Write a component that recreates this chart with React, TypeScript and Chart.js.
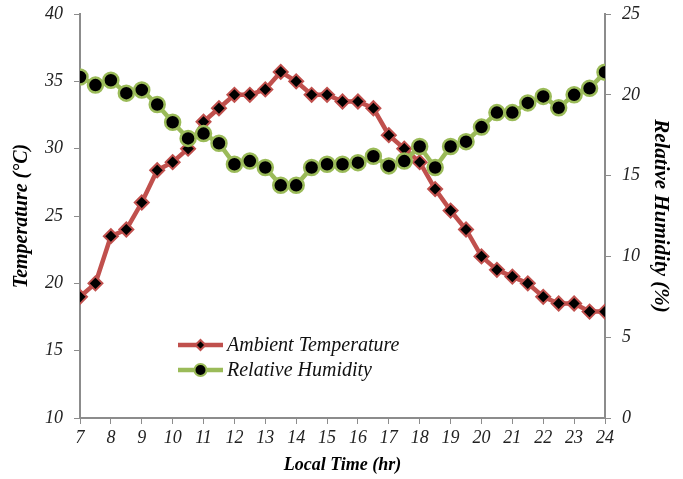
import React, { useEffect, useRef } from "react";
import { Chart, registerables } from "chart.js";

Chart.register(...registerables);

// Local time of each reading (hr)
const hours = [
  7, 7.5, 8, 8.5, 9, 9.5, 10, 10.5, 11, 11.5, 12, 12.5, 13, 13.5, 14, 14.5, 15,
  15.5, 16, 16.5, 17, 17.5, 18, 18.5, 19, 19.5, 20, 20.5, 21, 21.5, 22, 22.5,
  23, 23.5, 24,
];

// Ambient temperature (°C)
const temperature = [
  19, 20, 23.5, 24, 26, 28.4, 29, 30, 32, 33, 34, 34, 34.4, 35.7, 35, 34, 34,
  33.5, 33.5, 33, 31, 30, 29, 27, 25.4, 24, 22, 21, 20.5, 20, 19, 18.5, 18.5,
  17.9, 17.9,
];

// Relative humidity (%)
const humidity = [
  21.1, 20.6, 20.9, 20.1, 20.3, 19.4, 18.3, 17.3, 17.6, 17.0, 15.7, 15.9, 15.5,
  14.4, 14.4, 15.5, 15.7, 15.7, 15.8, 16.2, 15.6, 15.9, 16.8, 15.5, 16.8, 17.1,
  18.0, 18.9, 18.9, 19.5, 19.9, 19.2, 20.0, 20.4, 21.4,
];

const seriesNames = ["Ambient Temperature", "Relative Humidity"];

const RED = "#C0504D";
const GREEN = "#9BBB59";
const AXIS = "#8c8c8c";
const SERIF = "'Liberation Serif', 'Times New Roman', serif";

function drawMarker(ctx: CanvasRenderingContext2D, style: string, x: number, y: number, r: number, color: string) {
  ctx.beginPath();
  if (style === "circle") {
    ctx.arc(x, y, r, 0, Math.PI * 2);
  } else {
    ctx.moveTo(x, y - r);
    ctx.lineTo(x + r, y);
    ctx.lineTo(x, y + r);
    ctx.lineTo(x - r, y);
    ctx.closePath();
  }
  ctx.fillStyle = "#000";
  ctx.fill();
  ctx.strokeStyle = color;
  ctx.lineWidth = 2;
  ctx.stroke();
}

// Legend drawn inside the plot area, below the curves
const insideLegend = {
  id: "insideLegend",
  afterDatasetsDraw(chart: any) {
    const { ctx, chartArea } = chart;
    const rows = [
      { name: seriesNames[0], color: RED, style: "rectRot", r: 5, y: chartArea.top + 331 },
      { name: seriesNames[1], color: GREEN, style: "circle", r: 6, y: chartArea.top + 356 },
    ];
    const x0 = chartArea.left + 98;
    const x1 = chartArea.left + 143;
    ctx.save();
    rows.forEach((row) => {
      ctx.strokeStyle = row.color;
      ctx.lineWidth = 4.5;
      ctx.beginPath();
      ctx.moveTo(x0, row.y);
      ctx.lineTo(x1, row.y);
      ctx.stroke();
      drawMarker(ctx, row.style, (x0 + x1) / 2, row.y, row.r, row.color);
      ctx.fillStyle = "#111";
      ctx.font = `italic 20px ${SERIF}`;
      ctx.textBaseline = "middle";
      ctx.textAlign = "left";
      ctx.fillText(row.name, x1 + 4, row.y + 1);
    });
    ctx.restore();
  },
};

export default function App() {
  const canvasRef = useRef<HTMLCanvasElement | null>(null);

  useEffect(() => {
    if (!canvasRef.current) return;
    const tickFont = { family: SERIF, size: 18, style: "italic" as const };
    const bold = (size: number) => ({ family: SERIF, size, style: "italic" as const, weight: "bold" as const });

    const chart = new Chart(canvasRef.current, {
      type: "line",
      data: {
        datasets: [
          {
            label: seriesNames[1],
            data: hours.map((h, i) => ({ x: h, y: humidity[i] })),
            yAxisID: "y1",
            borderColor: GREEN,
            borderWidth: 4.5,
            pointStyle: "circle",
            pointRadius: 7.5,
            pointBorderWidth: 2.5,
            pointBackgroundColor: "#000",
            pointBorderColor: GREEN,
            order: 0,
          },
          {
            label: seriesNames[0],
            data: hours.map((h, i) => ({ x: h, y: temperature[i] })),
            yAxisID: "y",
            borderColor: RED,
            borderWidth: 4.5,
            pointStyle: "rectRot",
            pointRadius: 7,
            pointBorderWidth: 2,
            pointBackgroundColor: "#000",
            pointBorderColor: RED,
            order: 1,
          },
        ],
      },
      options: {
        responsive: false,
        animation: false,
        layout: { padding: { top: 14, left: 0, right: 0, bottom: 0 } },
        plugins: {
          legend: { display: false },
          tooltip: { enabled: false },
        },
        scales: {
          x: {
            type: "linear",
            min: 7,
            max: 24,
            afterFit: (s: any) => {
              s.height = 61;
              s.paddingLeft = 0;
              s.paddingRight = 0;
            },
            ticks: { stepSize: 1, color: "#222", font: tickFont, padding: 3, maxRotation: 0 },
            grid: { drawOnChartArea: false, drawTicks: true, tickLength: 6, color: AXIS },
            border: { display: true, color: AXIS, width: 2 },
            title: { display: true, text: "Local Time (hr)", color: "#000", font: bold(18), padding: { top: 0, bottom: 3 } },
          },
          y: {
            position: "left",
            min: 10,
            max: 40,
            afterFit: (s: any) => {
              s.width = 80;
              s.paddingTop = 0;
              s.paddingBottom = 0;
            },
            ticks: { stepSize: 5, color: "#222", font: tickFont, padding: 11 },
            grid: { drawOnChartArea: false, drawTicks: true, tickLength: 6, color: AXIS },
            border: { display: true, color: AXIS, width: 2 },
            title: { display: true, text: "Temperature (°C)", color: "#000", font: bold(20), padding: { top: 10, bottom: 0 } },
          },
          y1: {
            position: "right",
            min: 0,
            max: 25,
            afterFit: (s: any) => {
              s.width = 78;
              s.paddingTop = 0;
              s.paddingBottom = 0;
            },
            ticks: { stepSize: 5, color: "#222", font: tickFont, padding: 11 },
            grid: { drawOnChartArea: false, drawTicks: true, tickLength: 6, color: AXIS },
            border: { display: true, color: AXIS, width: 2 },
            title: { display: true, text: "Relative Humidity (%)", color: "#000", font: bold(21), padding: { top: 10, bottom: 0 } },
          },
        },
      },
      plugins: [insideLegend],
    });
    return () => chart.destroy();
  }, []);

  return (
    <div style={{ position: "fixed", left: 0, top: 0, width: 683, height: 479, background: "#fff" }}>
      <canvas ref={canvasRef} width={683} height={479} />
    </div>
  );
}
